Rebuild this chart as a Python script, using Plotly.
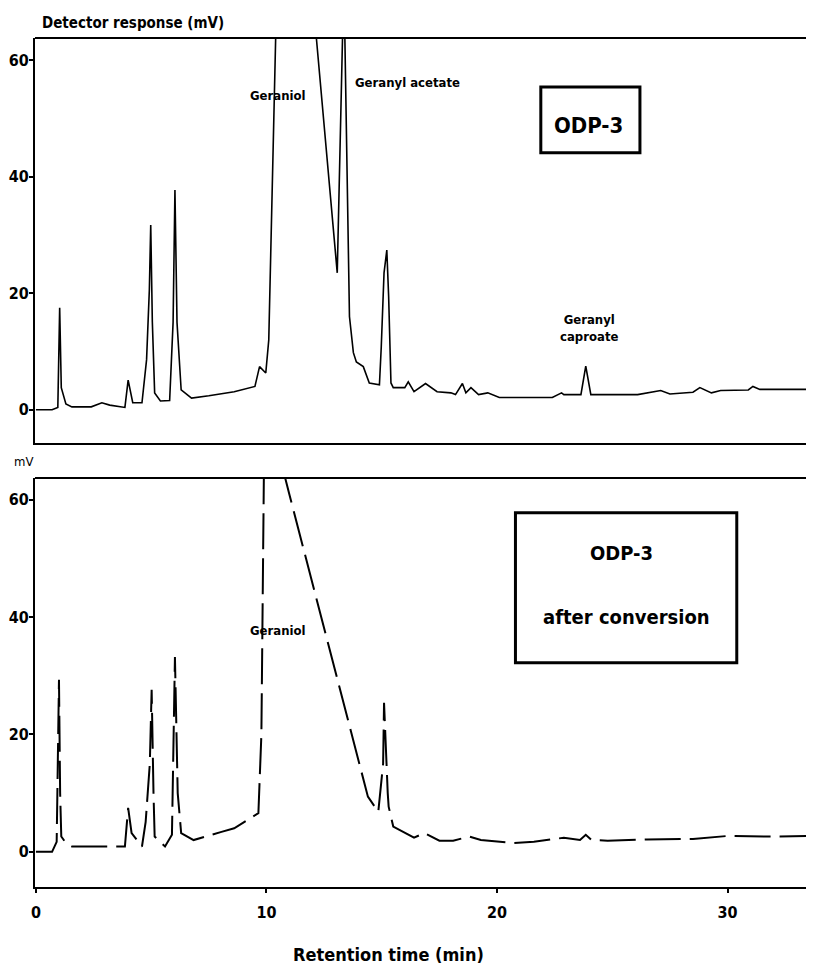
import plotly.graph_objects as go
from plotly.subplots import make_subplots

# ---- data (retention time in min, detector response in mV) ----
t_top = [0.0, 0.7, 0.95, 1.03, 1.1, 1.3, 1.56, 2.4, 2.86, 3.2, 3.86, 4.0, 4.2, 4.6, 4.8, 4.92,
         4.98, 5.05, 5.15, 5.4, 5.8, 5.95, 6.03, 6.12, 6.3, 6.75, 7.5, 8.6, 9.5, 9.7, 9.97, 10.1,
         10.4, 10.78, 12.16, 13.07, 13.3, 13.36, 13.4, 13.6, 13.77, 13.9, 14.2, 14.46, 14.9,
         14.98, 15.1, 15.22, 15.3, 15.4, 15.5, 16.0, 16.15, 16.4, 16.9, 17.4, 18.0, 18.2, 18.5,
         18.65, 18.87, 19.2, 19.6, 20.1, 22.4, 22.8, 22.9, 23.64, 23.85, 24.07, 26.1, 27.1, 27.5,
         28.5, 28.8, 29.3, 29.7, 30.9, 31.1, 31.4, 33.8]
y_top = [0.0, 0.0, 0.4, 17.5, 3.8, 1.0, 0.5, 0.5, 1.2, 0.8, 0.4, 5.1, 1.2, 1.2, 8.6, 20.6,
         31.7, 15.0, 2.9, 1.5, 1.6, 15.0, 37.7, 15.0, 3.4, 2.0, 2.4, 3.1, 4.0, 7.4, 6.3, 12.0,
         64.0, 126.0, 64.0, 23.5, 64.0, 74.0, 64.0, 16.0, 9.8, 8.2, 7.4, 4.6, 4.3,
         10.8, 23.5, 27.4, 19.4, 4.6, 3.8, 3.8, 4.8, 3.1, 4.5, 3.1, 2.9, 2.6, 4.5,
         2.9, 3.8, 2.6, 2.9, 2.1, 2.1, 2.9, 2.6, 2.6, 7.5, 2.6, 2.6, 3.3, 2.7,
         3.0, 3.8, 2.9, 3.3, 3.4, 4.0, 3.5, 3.5]

t_bot = [0.0, 0.7, 0.9, 0.95, 1.0, 1.05, 1.1, 1.3, 1.56, 2.3, 2.9, 3.86, 4.0, 4.15, 4.6, 4.76,
         4.94, 5.02, 5.1, 5.15, 5.6, 5.9, 6.03, 6.15, 6.3, 6.84, 8.05, 8.6, 9.65, 9.78, 9.92,
         11.0, 14.4, 14.85, 15.06, 15.1, 15.26, 15.3, 15.5, 15.9, 16.4, 16.85, 17.5, 18.1, 18.8,
         19.3, 20.7, 21.6, 22.9, 23.6, 23.85, 24.1, 24.8, 26.5, 28.5, 30.0, 31.7, 33.8]
y_bot = [0.0, 0.0, 1.7, 17.0, 29.3, 10.0, 2.6, 1.5, 0.9, 0.9, 0.9, 0.9, 7.5, 3.2, 0.9, 5.1,
         15.0, 27.6, 10.0, 2.6, 0.9, 2.9, 33.2, 10.0, 3.2, 2.0, 3.4, 4.0, 6.6, 20.0, 77.5,
         60.8, 9.4, 6.8, 15.0, 25.4, 10.0, 7.7, 4.3, 3.4, 2.4, 3.2, 1.9, 1.9, 2.6,
         2.0, 1.5, 1.7, 2.4, 2.0, 2.9, 2.0, 1.9, 2.1, 2.2, 2.7, 2.6, 2.7]

y_ticks = [0, 20, 40, 60]
x_ticks = [0, 10, 20, 30]

FONT = "DejaVu Sans Condensed, Liberation Sans Narrow, Liberation Sans, sans-serif"

fig = make_subplots(rows=2, cols=1, shared_xaxes=False)

fig.add_trace(go.Scatter(x=t_top, y=y_top, mode="lines",
                         line=dict(color="black", width=1.6), showlegend=False), row=1, col=1)
fig.add_trace(go.Scatter(x=t_bot, y=y_bot, mode="lines",
                         line=dict(color="black", width=2, dash="36px,9px"), showlegend=False),
              row=2, col=1)

xr = [-0.04, 33.75]
tickfont = dict(family=FONT, size=16, color="black", weight="bold")
base = dict(showgrid=False, zeroline=False, showline=True, linecolor="black", linewidth=2,
            tickcolor="black", tickwidth=1.5, tickfont=tickfont)

fig.update_xaxes(range=xr, showticklabels=False, ticks="", **base, row=1, col=1)
fig.update_xaxes(range=xr, tickvals=x_ticks, ticks="outside", ticklen=4,
                 ticklabelstandoff=6, **base, row=2, col=1)
fig.update_yaxes(range=[-5.7, 63.8], domain=[0.523, 1.0], tickvals=y_ticks, ticks="outside",
                 ticklen=4, ticklabelstandoff=-3, **base, row=1, col=1)
fig.update_yaxes(range=[-6.0, 63.7], domain=[0.0, 0.4817], tickvals=y_ticks, ticks="outside",
                 ticklen=4, ticklabelstandoff=-3, **base, row=2, col=1)

# top borders of both panels
for yd in ("y domain", "y2 domain"):
    fig.add_shape(type="line", xref="paper", yref=yd, x0=0, x1=1, y0=1, y1=1,
                  line=dict(color="black", width=2))

# sample boxes
fig.add_shape(type="rect", xref="x", yref="y", x0=21.9, x1=26.2, y0=44.1, y1=55.4,
              line=dict(color="black", width=3))
fig.add_shape(type="rect", xref="x2", yref="y2", x0=20.8, x1=30.4, y0=32.2, y1=57.8,
              line=dict(color="black", width=3))

def ann(text, x, y, xref, yref, size, bold=True, xanchor="center"):
    fig.add_annotation(text=text, x=x, y=y, xref=xref, yref=yref, showarrow=False,
                       xanchor=xanchor, yanchor="middle",
                       font=dict(family=FONT, size=size, color="black",
                                 weight="bold" if bold else "normal"))

ann("Geraniol", 10.48, 54.0, "x", "y", 13)
ann("Geranyl acetate", 16.1, 56.1, "x", "y", 13)
ann("Geranyl<br>caproate", 24.0, 14.1, "x", "y", 13)
ann("ODP-3", 23.95, 48.7, "x", "y", 22)
ann("Geraniol", 10.48, 37.8, "x2", "y2", 13)
ann("ODP-3", 25.4, 50.9, "x2", "y2", 20)
ann("after conversion", 25.6, 40.0, "x2", "y2", 20)

ann("Detector response (mV)", 0.006, 1.0177, "paper", "paper", 15, xanchor="left")
ann("mV", -0.03, 0.5006, "paper", "paper", 13, bold=False, xanchor="left")
ann("Retention time (min)", 0.454, -0.079, "paper", "paper", 18)

# the page body adds an 8px offset; size and margins keep the plot where the reference has it
fig.update_layout(width=806, height=959,
                  margin=dict(l=27, r=0, t=30, b=80, autoexpand=False),
                  plot_bgcolor="white", paper_bgcolor="white",
                  font=dict(family=FONT, color="black"))

fig.write_html("out.html")
